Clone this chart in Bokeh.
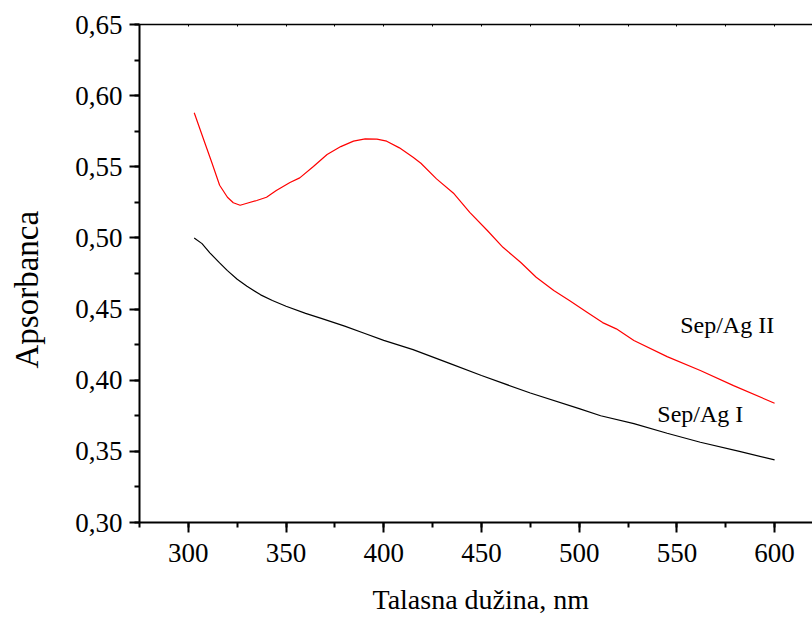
import math
from bokeh.plotting import figure
from bokeh.models import (LinearAxis, SingleIntervalTicker, FixedTicker,
                          CustomJSTickFormatter, Label, Range1d, Title)
from bokeh.embed import file_html
from bokeh.resources import INLINE

# ---- data ----
wl_ag2 = [303, 308, 312, 316, 320, 323, 326.5, 330, 335, 340, 345, 352, 357, 364,
          371, 378, 384.5, 390.5, 396.5, 401.5, 408, 415, 419, 427, 436, 444, 453,
          461, 470, 478, 487, 495, 504, 512, 519, 528, 545, 562, 579, 600]
abs_ag2 = [0.588, 0.5685, 0.553, 0.537, 0.5286, 0.5247, 0.523, 0.5244, 0.5263,
           0.5286, 0.5333, 0.539, 0.5422, 0.5502, 0.5586, 0.5642, 0.568, 0.5696,
           0.5694, 0.568, 0.5633, 0.5567, 0.5525, 0.5415, 0.531, 0.518, 0.5052,
           0.4934, 0.4829, 0.4724, 0.463, 0.456, 0.4478, 0.4405, 0.4361, 0.4279,
           0.4166, 0.4068, 0.3962, 0.3838]

wl_ag1 = [303, 307, 311, 316, 320, 325, 330, 337, 343, 350, 360, 368, 380, 390,
          400, 415, 434, 450, 475, 500, 511, 528, 545, 562, 582, 600]
abs_ag1 = [0.500, 0.4960, 0.4895, 0.4825, 0.4770, 0.4710, 0.4660, 0.4600, 0.4560,
           0.4520, 0.4470, 0.4435, 0.4380, 0.4330, 0.4280, 0.4215, 0.4117, 0.4033,
           0.3910, 0.3800, 0.3750, 0.3695, 0.3627, 0.3564, 0.3500, 0.3440]

series_names = ["Sep/Ag II", "Sep/Ag I"]
x_title = "Talasna dužina, nm"
y_title = "Apsorbanca"

FONT = "Liberation Serif"
X_START, X_END = 275, 619.4
Y_START, Y_END = 0.30, 0.65

p = figure(width=812, height=617, output_backend="svg", toolbar_location=None,
           x_range=Range1d(X_START, X_END), y_range=Range1d(Y_START, Y_END),
           x_axis_type=None, y_axis_type=None,
           min_border_left=139, min_border_right=0, min_border_top=24,
           min_border_bottom=95)
p.outline_line_color = None
p.background_fill_color = "white"
p.border_fill_color = "white"
p.xgrid.visible = False
p.ygrid.visible = False

# bottom axis
xa = LinearAxis(ticker=SingleIntervalTicker(interval=50, num_minor_ticks=2))
xa.axis_line_width = 2
xa.major_tick_line_width = 2
xa.minor_tick_line_width = 2
xa.major_tick_out = 10
xa.major_tick_in = 0
xa.minor_tick_out = 5
xa.minor_tick_in = 0
xa.major_label_standoff = 11
xa.major_label_text_font = FONT
xa.major_label_text_font_size = "27px"
xa.major_label_text_color = "black"
p.add_layout(xa, "below")

# left axis
ya = LinearAxis(ticker=SingleIntervalTicker(interval=0.05, num_minor_ticks=2),
                formatter=CustomJSTickFormatter(code="return tick.toFixed(2).replace('.', ',');"))
ya.axis_line_width = 2
ya.major_tick_line_width = 2
ya.minor_tick_line_width = 2
ya.major_tick_out = 10
ya.major_tick_in = 0
ya.minor_tick_out = 5
ya.minor_tick_in = 0
ya.major_label_standoff = 7
ya.major_label_text_font = FONT
ya.major_label_text_font_size = "27px"
ya.major_label_text_color = "black"
p.add_layout(ya, "left")


def spacer(size, at):
    """An unlabeled axis panel with one white tick: only leaves room before the title."""
    s = LinearAxis(ticker=FixedTicker(ticks=[at], minor_ticks=[]))
    s.axis_line_color = None
    s.major_tick_line_color = "white"
    s.major_tick_out = size
    s.major_tick_in = 0
    s.minor_tick_out = 0
    s.minor_tick_in = 0
    s.major_label_standoff = 0
    s.major_label_text_color = None
    return s


p.add_layout(spacer(16, X_START), "below")
p.add_layout(spacer(27, Y_START), "left")

# top spine with small inward ticks (no labels)
top_ticks = list(range(275, 625, 25))
ta = LinearAxis(ticker=FixedTicker(ticks=[], minor_ticks=top_ticks))
ta.axis_line_width = 1.5
ta.minor_tick_in = 2
ta.minor_tick_out = 0
ta.minor_tick_line_width = 1
ta.major_tick_in = 0
ta.major_tick_out = 0
p.add_layout(ta, "above")

# curves
p.line(wl_ag2, abs_ag2, line_color="#ff0000", line_width=1.2)
p.line(wl_ag1, abs_ag1, line_color="#000000", line_width=1.2)

# curve labels
p.add_layout(Label(x=551.7, y=0.4391, text=series_names[0], text_font=FONT,
                   text_font_size="24px", text_color="black",
                   text_align="left", text_baseline="alphabetic"))
p.add_layout(Label(x=540, y=0.3766, text=series_names[1], text_font=FONT,
                   text_font_size="24px", text_color="black",
                   text_align="left", text_baseline="alphabetic"))

# axis titles
p.add_layout(Title(text=x_title, align="left", offset=233, standoff=2,
                   text_font=FONT, text_font_size="28px",
                   text_font_style="normal", text_color="black"), "below")
p.add_layout(Title(text=y_title, align="left", offset=154, standoff=2,
                   text_font=FONT, text_font_size="33px",
                   text_font_style="normal", text_color="black"), "left")

open("out.html", "w").write(file_html(p, INLINE))
